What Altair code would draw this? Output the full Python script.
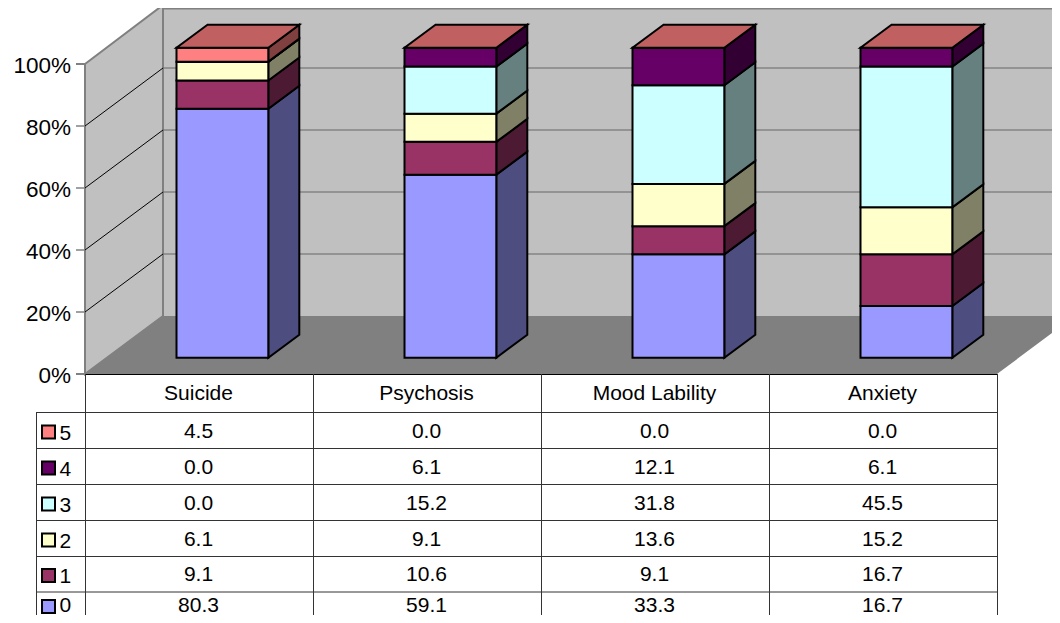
import altair as alt
import pandas as pd

categories = ["Suicide", "Psychosis", "Mood Lability", "Anxiety"]
series_names = ["0", "1", "2", "3", "4", "5"]
s0 = [80.3, 59.1, 33.3, 16.7]
s1 = [9.1, 10.6, 9.1, 16.7]
s2 = [6.1, 9.1, 13.6, 15.2]
s3 = [0.0, 15.2, 31.8, 45.5]
s4 = [0.0, 6.1, 12.1, 6.1]
s5 = [4.5, 0.0, 0.0, 0.0]
series = [s0, s1, s2, s3, s4, s5]
front_colors = ["#9999FF", "#993366", "#FFFFCC", "#CCFFFF", "#660066", "#FF8080"]
side_colors = ["#4D4D80", "#4D1A33", "#808066", "#668080", "#330033", "#804040"]
top_color = "#C06060"
ticks = [0, 20, 40, 60, 80, 100]

FONT = "Liberation Sans"
CW, CH = 1044, 607
X = alt.Scale(domain=[8, 8 + CW], range=[0, CW], nice=False, zero=False)
Y = alt.Scale(domain=[8, 8 + CH], range=[0, CH], nice=False, zero=False)


def xe(f="x"):
    return alt.X(f"{f}:Q", scale=X, axis=None)


def ye(f="y"):
    return alt.Y(f"{f}:Q", scale=Y, axis=None, stack=None)


BASE, PX = 357.7, 3.1
BAR_W, DX, DY = 91.8, 31, 23
bar_left = [176.5, 404.5, 632.5, 860.5]
col_edges = [85, 313, 541, 769, 997]
row_lines = [412, 448, 484, 520, 556, 591.5]
row_text_y = [431.5, 467.5, 503.5, 539.5, 575, 605.5]
legend_text_y = [433.5, 469.5, 505.5, 541.5, 577, 605.5]
key_y = [432, 468, 504, 540, 575.5, 606.5]

# bar faces
fronts, sides, tops = [], [], []
for i, cat in enumerate(categories):
    total = sum(s[i] for s in series)
    cum = 0.0
    L = bar_left[i]
    R = L + BAR_W
    for k, s in enumerate(series):
        v = s[i] * 100 / total
        b = BASE - PX * cum
        t = BASE - PX * (cum + v)
        cum += v
        fronts.append(dict(x=L, x2=R, y=t, y2=b, c=front_colors[k]))
        fid = f"{i}-{k}"
        sides.append(dict(id=fid, x=R, y=t, y2=b, c=side_colors[k]))
        sides.append(dict(id=fid, x=R + DX, y=t - DY, y2=b - DY, c=side_colors[k]))
    t = BASE - PX * cum
    tops.append(dict(id=i, y=t, x=L, x2=R, c=top_color))
    tops.append(dict(id=i, y=t - DY, x=L + DX, x2=R + DX, c=top_color))

wall_back = alt.Chart(pd.DataFrame([dict(x=163, x2=1080, y=5, y2=316)])).mark_rect(
    fill="#C0C0C0"
).encode(x=xe(), x2="x2:Q", y=ye(), y2="y2:Q")

wall_left = alt.Chart(
    pd.DataFrame([dict(x=85, y=64, y2=374), dict(x=163, y=5, y2=316)])
).mark_area(fill="#C0C0C0", stroke="#808080", strokeWidth=2).encode(
    x=xe(), y=ye(), y2="y2:Q"
)

floor = alt.Chart(
    pd.DataFrame([dict(y=316, x=163, x2=1075), dict(y=374, x=85, x2=997)])
).mark_area(fill="#808080", orient="horizontal").encode(
    y=ye(), x=xe(), x2="x2:Q"
)

lines = []


def add(x, y, x2, y2, c, w=1.0):
    lines.append(dict(x=x, y=y, x2=x2, y2=y2, c=c, w=w))


# top edge of the back wall and gridlines
add(163, 8.5, 1060, 8.5, "#808080", 2)
for p in ticks[1:5]:
    fy = 374 - 3.1 * p
    add(85, fy, 163, fy - 58, "#000000", 1)
    add(163, fy - 58, 1075, fy - 58, "#666666", 1)
for p in ticks:
    fy = 374 - 3.1 * p
    add(76, fy, 85, fy, "#808080", 2 if p in (0, 100) else 1.5)

grid = alt.Chart(pd.DataFrame(lines)).mark_rule().encode(
    x=xe(), x2="x2:Q", y=ye(), y2="y2:Q",
    color=alt.Color("c:N", scale=None),
    strokeWidth=alt.StrokeWidth("w:Q", scale=None),
)

side_layer = alt.Chart(pd.DataFrame(sides)).mark_area(
    stroke="#000000", strokeWidth=2, strokeJoin="miter"
).encode(
    x=xe(), y=ye(), y2="y2:Q", fill=alt.Fill("c:N", scale=None), detail="id:N"
)

top_layer = alt.Chart(pd.DataFrame(tops)).mark_area(
    stroke="#000000", strokeWidth=2, strokeJoin="miter", orient="horizontal"
).encode(
    y=ye(), x=xe(), x2="x2:Q", fill=alt.Fill("c:N", scale=None), detail="id:N"
)

front_layer = alt.Chart(pd.DataFrame(fronts)).mark_rect(
    stroke="#000000", strokeWidth=2
).encode(
    x=xe(), x2="x2:Q", y=ye(), y2="y2:Q", fill=alt.Fill("c:N", scale=None)
)

# data table rules
tlines = []
for ry in row_lines:
    tlines.append(dict(x=36.5, x2=997.5, y=ry + 0.5, y2=ry + 0.5, c="#333333"))
tlines.append(dict(x=85, x2=997.5, y=374.5, y2=374.5, c="#000000"))
for cx in col_edges:
    tlines.append(dict(x=cx + 0.5, x2=cx + 0.5, y=374, y2=623, c="#333333"))
tlines.append(dict(x=36.5, x2=36.5, y=412, y2=623, c="#333333"))
table_rules = alt.Chart(pd.DataFrame(tlines)).mark_rule(strokeWidth=1).encode(
    x=xe(), x2="x2:Q", y=ye(), y2="y2:Q", color=alt.Color("c:N", scale=None)
)

# legend keys
keys = []
for k in range(6):
    yc = key_y[5 - k]
    keys.append(dict(x=42, x2=55, y=yc - 6.5, y2=yc + 6.5, c=front_colors[k]))
key_layer = alt.Chart(pd.DataFrame(keys)).mark_rect(
    stroke="#000000", strokeWidth=2
).encode(
    x=xe(), x2="x2:Q", y=ye(), y2="y2:Q", fill=alt.Fill("c:N", scale=None)
)

# text
axis_txt = pd.DataFrame(
    [dict(x=71, y=375.5 - 3.1 * p, t=f"{p}%") for p in ticks]
)
axis_layer = alt.Chart(axis_txt).mark_text(
    font=FONT, fontSize=22.5, align="right", baseline="middle", color="#000000"
).encode(x=xe(), y=ye(), text="t:N")

cells = []
for i, cat in enumerate(categories):
    cx = (col_edges[i] + col_edges[i + 1]) / 2
    cells.append(dict(x=cx - 0.5, y=394, t=cat))
    for r in range(6):
        cells.append(dict(x=cx - 0.5, y=row_text_y[r], t=f"{series[5 - r][i]:.1f}"))
cell_layer = alt.Chart(pd.DataFrame(cells)).mark_text(
    font=FONT, fontSize=21, align="center", baseline="middle", color="#000000"
).encode(x=xe(), y=ye(), text="t:N")

legend_txt = pd.DataFrame(
    [dict(x=59.5, y=legend_text_y[r], t=series_names[5 - r]) for r in range(6)]
)
legend_layer = alt.Chart(legend_txt).mark_text(
    font=FONT, fontSize=21, align="left", baseline="middle", color="#000000"
).encode(x=xe(), y=ye(), text="t:N")

chart = alt.layer(
    wall_back, wall_left, floor, grid, side_layer, front_layer, top_layer,
    table_rules, key_layer, axis_layer, cell_layer, legend_layer,
).properties(
    width=CW, height=CH, padding=0, autosize=alt.AutoSizeParams(type="none"),
    background="#FFFFFF",
).configure_view(stroke=None)

chart.save("out.html", embed_options={"renderer": "svg", "actions": False})
